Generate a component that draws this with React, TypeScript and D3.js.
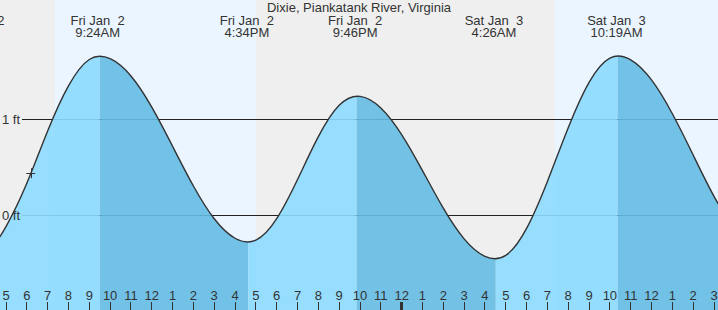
import React, { useEffect } from 'react';
import * as d3 from 'd3';

const W = 718;
const H = 310;

const TITLE = 'Dixie, Piankatank River, Virginia';

// hours since Fri Jan 2 00:00 and water level in feet (hourly)
const tideHours = [3, 4, 5, 6, 7, 8, 9, 10, 11, 12, 13, 14, 15, 16, 17, 18, 19, 20, 21, 22, 23, 24, 25, 26, 27, 28, 29, 30, 31, 32, 33, 34, 35, 36, 37, 38, 39, 40, 41];
const tideFeet = [-0.39, -0.39, -0.115, 0.335, 0.88, 1.35, 1.625, 1.633, 1.453, 1.129, 0.721, 0.307, -0.034, -0.237, -0.256, -0.032, 0.375, 0.821, 1.148, 1.241, 1.12, 0.843, 0.468, 0.077, -0.243, -0.425, -0.415, -0.134, 0.355, 0.915, 1.387, 1.64, 1.621, 1.412, 1.06, 0.63, 0.2, -0.11, -0.22];

// turning points of the drawn curve (hours) and whether each is a high
const turnHours = [9.5, 16.64, 21.84, 28.52, 34.37];
const turnIsHigh = [true, false, true, false, true];

// high / low tide labels
const extremeHours = [3.62, 9.4, 16.567, 21.767, 28.433, 34.317];
const extremeDays = ['Fri Jan  2', 'Fri Jan  2', 'Fri Jan  2', 'Fri Jan  2', 'Sat Jan  3', 'Sat Jan  3'];
const extremeTimes = ['3:37AM', '9:24AM', '4:34PM', '9:46PM', '4:26AM', '10:19AM'];

// daylight intervals (hours since Jan 2 00:00)
const sunriseHours = [7.35, 31.35];
const sunsetHours = [17.0, 41.0];

// hour ticks
const firstTickHour = 5;
const hourTickLabels = ['5', '6', '7', '8', '9', '10', '11', '12', '1', '2', '3', '4', '5', '6', '7', '8', '9', '10', '11', '12', '1', '2', '3', '4', '5', '6', '7', '8', '9', '10', '11', '12', '1', '2', '3'];

// reference levels
const levelFeet = [1, 0];
const levelLabels = ['1 ft', '0 ft'];

// current-time marker
const nowHour = 6.19;
const nowFeet = 0.44;

const FONT = '"Liberation Sans", Arial, Helvetica, sans-serif';
const TEXT = '#333';

export default function App() {
  useEffect(() => {
    document.body.style.margin = '0';
  }, []);

  const x = d3.scaleLinear().domain([5, 39]).range([6, 714]);
  const y = d3.scaleLinear().domain([0, 1]).range([215.5, 119.5]);

  const pts = tideHours.map((h, i) => [h, tideFeet[i]] as [number, number]);
  const curve = d3.curveNatural;
  const line = d3
    .line<[number, number]>()
    .x((d) => x(d[0]))
    .y((d) => y(d[1]))
    .curve(curve);
  const area = d3
    .area<[number, number]>()
    .x((d) => x(d[0]))
    .y0(H)
    .y1((d) => y(d[1]))
    .curve(curve);

  const bounds = [tideHours[0], ...turnHours, tideHours[tideHours.length - 1]];
  const segments = bounds.slice(0, -1).map((b0, i) => {
    const b1 = bounds[i + 1];
    const rising = i < turnHours.length ? turnIsHigh[i] : !turnIsHigh[turnHours.length - 1];
    return { x0: x(b0), x1: x(b1), rising };
  });

  const areaPath = area(pts) || '';
  const linePath = line(pts) || '';

  const nx = x(nowHour);
  const ny = y(nowFeet);

  return (
    <svg
      width={W}
      height={H}
      style={{ position: 'absolute', left: 0, top: 0, display: 'block' }}
      fontFamily={FONT}
    >
      <defs>
        {segments.map((s, i) => (
          <clipPath id={`seg${i}`} key={i}>
            <rect x={s.x0} y={0} width={s.x1 - s.x0} height={H} />
          </clipPath>
        ))}
      </defs>
      {/* night background */}
      <rect x={0} y={0} width={W} height={H} fill="#efefef" />
      {/* daylight */}
      {sunriseHours.map((sr, i) => (
        <rect
          key={i}
          x={Math.round(x(sr))}
          y={0}
          width={Math.max(0, Math.min(W, Math.round(x(sunsetHours[i]))) - Math.round(x(sr)))}
          height={H}
          fill="#ebf5ff"
        />
      ))}
      {/* reference lines */}
      {levelFeet.map((f, i) => (
        <line key={i} x1={22} x2={W} y1={y(f)} y2={y(f)} stroke="#222" strokeWidth={1} />
      ))}
      {/* tide fill */}
      {segments.map((s, i) => (
        <path
          key={i}
          d={areaPath}
          clipPath={`url(#seg${i})`}
          fill={s.rising ? 'rgb(140,218,255)' : 'rgb(101,189,228)'}
          fillOpacity={0.9}
        />
      ))}
      {/* tide curve */}
      <path d={linePath} fill="none" stroke="#333" strokeWidth={1.4} />
      {/* level labels */}
      {levelFeet.map((f, i) => (
        <text key={i} x={2} y={y(f) + 4.5} fontSize={13} fill={TEXT}>
          {levelLabels[i]}
        </text>
      ))}
      {/* hour ticks */}
      {hourTickLabels.map((lab, i) => {
        const h = firstTickHour + i;
        const px = x(h);
        const midnight = h % 24 === 0;
        return (
          <g key={i}>
            <line
              x1={Math.floor(px) + 0.5}
              x2={Math.floor(px) + 0.5}
              y1={302}
              y2={H}
              stroke="#333"
              strokeWidth={midnight ? 3 : 1}
            />
            <text x={px} y={300} fontSize={13} fill={TEXT} textAnchor="middle">
              {lab}
            </text>
          </g>
        );
      })}
      {/* title */}
      <text x={W / 2} y={12} fontSize={13} fill={TEXT} textAnchor="middle">
        {TITLE}
      </text>
      {/* extreme labels */}
      {extremeHours.map((h, i) => (
        <g key={i} style={{ whiteSpace: 'pre' }}>
          <text x={x(h)} y={24.5} fontSize={13} fill={TEXT} textAnchor="middle" xmlSpace="preserve">
            {extremeDays[i]}
          </text>
          <text x={x(h)} y={36.5} fontSize={13} fill={TEXT} textAnchor="middle">
            {extremeTimes[i]}
          </text>
        </g>
      ))}
      {/* now marker */}
      <line x1={nx - 4.5} x2={nx + 4.5} y1={Math.round(ny) + 0.5} y2={Math.round(ny) + 0.5} stroke="#333" strokeWidth={1} />
      <line x1={Math.round(nx) + 0.5} x2={Math.round(nx) + 0.5} y1={ny - 5} y2={ny + 5} stroke="#333" strokeWidth={1} />
    </svg>
  );
}
